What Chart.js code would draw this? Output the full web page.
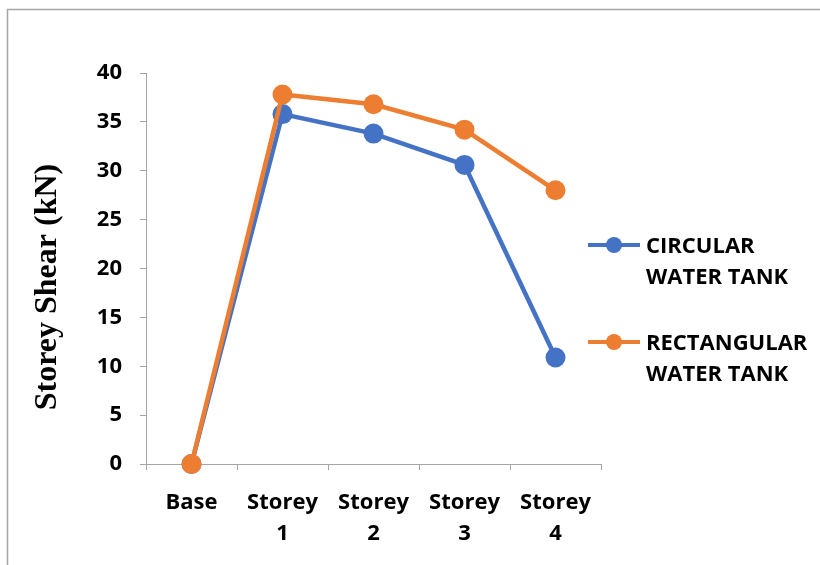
<!DOCTYPE html>
<html>
<head>
<meta charset="utf-8">
<title>Storey Shear</title>
<script src="https://cdn.jsdelivr.net/npm/chart.js@4.4.1/dist/chart.umd.min.js"></script>
<style>
  html, body { margin: 0; padding: 0; background: #ffffff; }
  canvas { display: block; }
</style>
</head>
<body>
<canvas id="chart" width="820" height="565"></canvas>
<script>
// Storey shear per level for the two tank shapes (kN)
const categories = ['Base', 'Storey 1', 'Storey 2', 'Storey 3', 'Storey 4'];
const circular = [0, 35.8, 33.8, 30.6, 10.9];
const rectangular = [0, 37.8, 36.8, 34.2, 28.0];
const seriesNames = ['CIRCULAR WATER TANK', 'RECTANGULAR WATER TANK'];
const yTicks = { min: 0, max: 40, step: 5 };
const yTitle = 'Storey Shear (kN)';

const BLUE = '#4472C4';
const ORANGE = '#ED7D31';
const AXIS = '#a6a6a6';
const SANS = '"Open Sans", "Noto Sans", sans-serif';
const TICK_FONT = { family: SANS, weight: 'bold', size: 22 };

// white page with a thin grey frame
const framePlugin = {
  id: 'frame',
  beforeDraw(chart) {
    const ctx = chart.ctx;
    ctx.save();
    ctx.fillStyle = '#ffffff';
    ctx.fillRect(0, 0, chart.width, chart.height);
    ctx.strokeStyle = AXIS;
    ctx.lineWidth = 1.5;
    ctx.strokeRect(7.5, 9.5, chart.width + 20, chart.height + 20);
    ctx.restore();
  }
};

// rotated value-axis title, drawn in a serif face
const yTitlePlugin = {
  id: 'yTitle',
  afterDraw(chart) {
    const ctx = chart.ctx;
    ctx.save();
    ctx.translate(48, 287);
    ctx.rotate(-Math.PI / 2);
    ctx.font = 'bold 32px "Liberation Serif", "Times New Roman", serif';
    ctx.fillStyle = '#000000';
    ctx.textAlign = 'center';
    ctx.textBaseline = 'middle';
    ctx.fillText(yTitle, 0, 0);
    ctx.restore();
  }
};

// legend on the right: line-and-marker swatch, label wrapped after the first word
const sideLegendPlugin = {
  id: 'sideLegend',
  afterDraw(chart) {
    const ctx = chart.ctx;
    ctx.save();
    chart.data.datasets.forEach((ds, i) => {
      const y = 245 + i * 97;
      ctx.strokeStyle = ds.borderColor;
      ctx.lineWidth = 4;
      ctx.beginPath();
      ctx.moveTo(588, y);
      ctx.lineTo(640, y);
      ctx.stroke();
      ctx.fillStyle = ds.borderColor;
      ctx.beginPath();
      ctx.arc(614, y, 8, 0, Math.PI * 2);
      ctx.fill();
      const words = ds.label.split(' ');
      const lines = [words[0], words.slice(1).join(' ')];
      ctx.fillStyle = '#000000';
      ctx.font = 'bold 22px ' + SANS;
      ctx.textAlign = 'left';
      ctx.textBaseline = 'middle';
      lines.forEach((t, k) => ctx.fillText(t, 646, y + 2 + k * 31));
    });
    ctx.restore();
  }
};

new Chart(document.getElementById('chart'), {
  type: 'line',
  data: {
    labels: categories.map(c => c.split(' ')),
    datasets: [
      {
        label: seriesNames[0],
        data: circular,
        borderColor: BLUE,
        backgroundColor: BLUE,
        pointBackgroundColor: BLUE,
        order: 2
      },
      {
        label: seriesNames[1],
        data: rectangular,
        borderColor: ORANGE,
        backgroundColor: ORANGE,
        pointBackgroundColor: ORANGE,
        order: 1
      }
    ]
  },
  options: {
    responsive: false,
    animation: false,
    devicePixelRatio: 1,
    layout: { padding: { top: 73, right: 219, left: 0, bottom: 0 } },
    elements: {
      line: { borderWidth: 4.5, tension: 0, fill: false },
      point: { radius: 10, hoverRadius: 10, borderWidth: 0 }
    },
    datasets: { line: { clip: false } },
    plugins: {
      legend: { display: false },
      tooltip: { enabled: false },
      title: { display: false }
    },
    scales: {
      x: {
        type: 'category',
        offset: true,
        grid: {
          offset: true,
          drawOnChartArea: false,
          drawTicks: true,
          tickLength: 6,
          color: AXIS
        },
        border: { color: AXIS, width: 1 },
        ticks: {
          color: '#000000',
          font: { ...TICK_FONT, lineHeight: 1.41 },
          padding: 17,
          maxRotation: 0,
          autoSkip: false
        },
        afterFit(scale) { scale.height = 101; }
      },
      y: {
        min: yTicks.min,
        max: yTicks.max,
        grid: {
          drawOnChartArea: false,
          drawTicks: true,
          tickLength: 6,
          color: AXIS
        },
        border: { color: AXIS, width: 1 },
        ticks: {
          stepSize: yTicks.step,
          color: '#000000',
          font: TICK_FONT,
          padding: 18
        },
        afterFit(scale) { scale.width = 146; }
      }
    }
  },
  plugins: [framePlugin, yTitlePlugin, sideLegendPlugin]
});
</script>
</body>
</html>
